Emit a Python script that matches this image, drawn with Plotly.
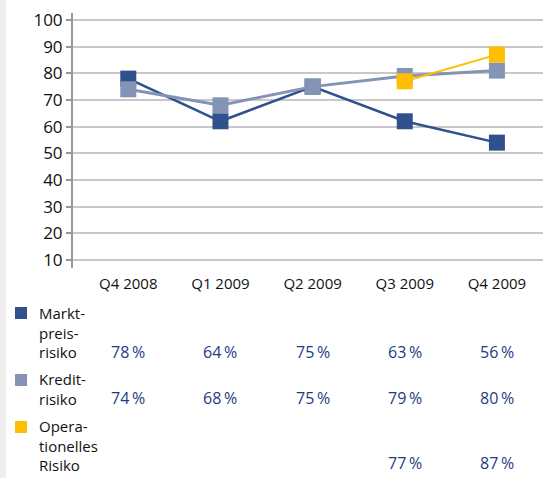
import plotly.graph_objects as go

quarters = ["Q4 2008", "Q1 2009", "Q2 2009", "Q3 2009", "Q4 2009"]

# plotted positions
markt_values = [78, 62, 75, 62, 54]
kredit_values = [74, 68, 75, 79, 81]
oper_values = [None, None, None, 77, 87]

# figures printed in the table below the chart
markt_labels = ["78", "64", "75", "63", "56"]
kredit_labels = ["74", "68", "75", "79", "80"]
oper_labels = ["", "", "", "77", "87"]

series_names = ["Markt-<br>preis-<br>risiko", "Kredit-<br>risiko", "Opera-<br>tionelles<br>Risiko"]
series_colors = ["#30508e", "#8394b7", "#ffbf00"]

W, H = 549, 478
L, R, T, B = 73, 6, 13, 210
plot_w = W - L - R
plot_h = H - T - B


def px_to_paper_x(px):
    return (px - L) / plot_w


def px_to_paper_y(py):
    return (H - B - py) / plot_h


fig = go.Figure()
for vals, color, width in [(markt_values, series_colors[0], 2.5), (kredit_values, series_colors[1], 3), (oper_values, series_colors[2], 2)]:
    fig.add_trace(
        go.Scatter(
            x=quarters,
            y=vals,
            mode="lines+markers",
            line=dict(color=color, width=width),
            marker=dict(symbol="square", size=16, color=color),
            showlegend=False,
            connectgaps=False,
            hoverinfo="skip",
        )
    )

font = "Open Sans"
annotations = []
# first-line centre and last-line centre of each table row, in pixels
row_first_y = [313, 380, 427]
row_last_y = [352, 398, 463]
value_rows = [markt_labels, kredit_labels, oper_labels]
shapes = [
    dict(type="rect", xref="paper", yref="paper", x0=px_to_paper_x(0), x1=px_to_paper_x(6),
         y0=px_to_paper_y(H), y1=px_to_paper_y(0), fillcolor="#eeeeee", line=dict(width=0), layer="below"),
]
for i, name in enumerate(series_names):
    y_top, y_bot = row_first_y[i], row_last_y[i]
    shapes.append(dict(type="rect", xref="paper", yref="paper",
                       x0=px_to_paper_x(15), x1=px_to_paper_x(27),
                       y0=px_to_paper_y(y_top + 6), y1=px_to_paper_y(y_top - 6),
                       fillcolor=series_colors[i], line=dict(width=0)))
    annotations.append(dict(text=name, xref="paper", yref="paper", x=px_to_paper_x(37),
                            y=px_to_paper_y((y_top + y_bot) / 2), align="left",
                            xanchor="left", yanchor="middle", showarrow=False,
                            font=dict(family=font, size=15, color="#111111")))
    for q, lab in zip(quarters, value_rows[i]):
        if lab:
            annotations.append(dict(text=lab + "\u2009%", xref="x", yref="paper", x=q, y=px_to_paper_y(y_bot),
                                    xanchor="center", yanchor="middle", showarrow=False,
                                    font=dict(family=font, size=16, color="#1d3c82")))

fig.update_layout(
    width=W,
    height=H,
    margin=dict(l=L, r=R, t=T, b=B),
    paper_bgcolor="white",
    plot_bgcolor="white",
    font=dict(family=font, color="#111111"),
    annotations=annotations,
    shapes=shapes,
    hovermode=False,
)
fig.update_xaxes(
    type="category",
    range=[-0.6, 4.5],
    showgrid=False,
    showline=False,
    ticks="",
    tickfont=dict(size=15, color="#111111"),
    ticklabelstandoff=5,
)
fig.update_yaxes(
    range=[7, 102.6],
    tickvals=[10, 20, 30, 40, 50, 60, 70, 80, 90, 100],
    showgrid=True,
    gridcolor="#c8c8c8",
    gridwidth=2,
    showline=True,
    linecolor="#999999",
    linewidth=2,
    ticks="outside",
    ticklen=5,
    tickcolor="#999999",
    tickwidth=2,
    tickfont=dict(size=17, color="#111111"),
    zeroline=False,
)
fig.write_html("out.html", config={"displayModeBar": False},
               post_script="document.body.style.margin='0';")
